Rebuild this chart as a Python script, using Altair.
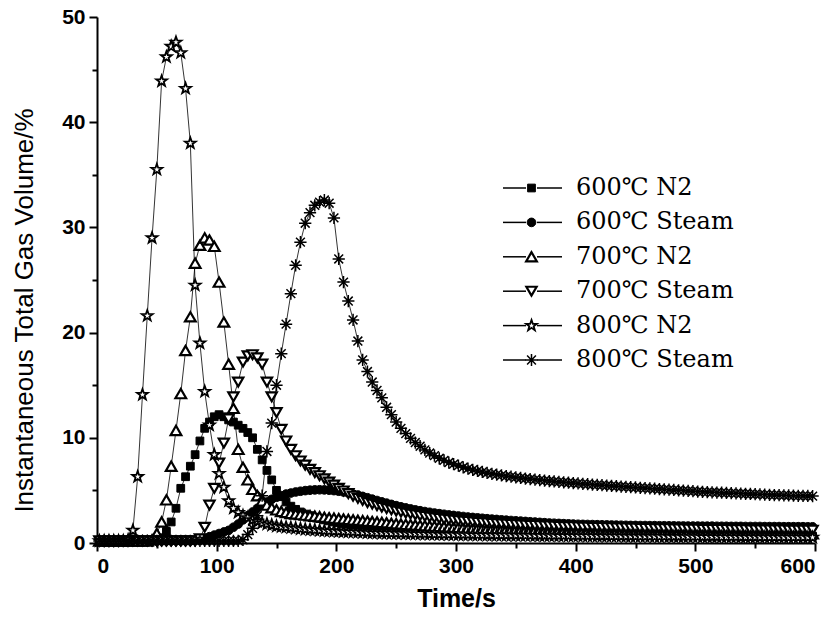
import altair as alt
import pandas as pd

series_names = ["600℃ N2", "600℃ Steam", "700℃ N2", "700℃ Steam", "800℃ N2", "800℃ Steam"]

# sampling times (s)
time_s = list(range(2, 600, 4))

s600_n2 = [
    0.2, 0.2, 0.2, 0.2, 0.2, 0.2, 0.2, 0.2, 0.2, 0.2,
    0.2, 0.2, 0.3, 0.5, 1.1, 2.0, 3.3, 5.2, 6.3, 7.3,
    8.4, 9.7, 10.9, 11.5, 12.0, 12.2, 12.0, 11.7, 11.5, 11.2,
    10.9, 10.5, 10.0, 8.9, 7.9, 6.9, 6.0, 5.0, 4.4, 3.9,
    3.5, 3.2, 2.95, 2.75, 2.6, 2.45, 2.32, 2.2, 2.1, 2.0,
    1.92, 1.85, 1.78, 1.72, 1.66, 1.6, 1.55, 1.5, 1.46, 1.42,
    1.38, 1.34, 1.31, 1.28, 1.25, 1.22, 1.19, 1.16, 1.14, 1.12,
    1.1, 1.08, 1.06, 1.04, 1.02, 1.0, 0.99, 0.97, 0.96, 0.95,
    0.94, 0.93, 0.92, 0.91, 0.9, 0.89, 0.88, 0.87, 0.86, 0.85,
    0.85, 0.84, 0.83, 0.83, 0.82, 0.81, 0.81, 0.8, 0.8, 0.79,
    0.79, 0.78, 0.78, 0.77, 0.77, 0.76, 0.76, 0.75, 0.75, 0.75,
    0.74, 0.74, 0.74, 0.73, 0.73, 0.73, 0.72, 0.72, 0.72, 0.71,
    0.71, 0.71, 0.71, 0.7, 0.7, 0.7, 0.7, 0.69, 0.69, 0.69,
    0.69, 0.68, 0.68, 0.68, 0.68, 0.68, 0.67, 0.67, 0.67, 0.67,
    0.67, 0.66, 0.66, 0.66, 0.66, 0.66, 0.66, 0.65, 0.65, 0.65,
]

s600_steam = [
    0.2, 0.2, 0.2, 0.2, 0.2, 0.2, 0.2, 0.2, 0.2, 0.2,
    0.2, 0.2, 0.2, 0.2, 0.2, 0.2, 0.2, 0.2, 0.2, 0.2,
    0.25, 0.3, 0.45, 0.6, 0.75, 0.9, 1.05, 1.2, 1.5, 1.8,
    2.2, 2.6, 2.95, 3.3, 3.6, 3.9, 4.15, 4.35, 4.5, 4.65,
    4.75, 4.85, 4.92, 4.98, 5.02, 5.05, 5.06, 5.05, 5.02, 4.98,
    4.92, 4.85, 4.76, 4.66, 4.55, 4.43, 4.3, 4.17, 4.04, 3.91,
    3.79, 3.67, 3.55, 3.44, 3.34, 3.24, 3.15, 3.07, 2.99, 2.92,
    2.85, 2.79, 2.73, 2.67, 2.62, 2.57, 2.52, 2.47, 2.43, 2.39,
    2.35, 2.31, 2.27, 2.24, 2.2, 2.17, 2.14, 2.11, 2.08, 2.05,
    2.02, 1.99, 1.96, 1.93, 1.9, 1.88, 1.86, 1.84, 1.82, 1.8,
    1.78, 1.77, 1.76, 1.75, 1.74, 1.73, 1.72, 1.71, 1.7, 1.69,
    1.68, 1.67, 1.67, 1.66, 1.66, 1.65, 1.65, 1.64, 1.64, 1.63,
    1.63, 1.62, 1.62, 1.61, 1.61, 1.61, 1.6, 1.6, 1.6, 1.59,
    1.59, 1.59, 1.58, 1.58, 1.58, 1.57, 1.57, 1.57, 1.57, 1.56,
    1.56, 1.56, 1.56, 1.55, 1.55, 1.55, 1.55, 1.55, 1.54, 1.54,
]

s700_n2 = [
    0.2, 0.2, 0.2, 0.2, 0.2, 0.2, 0.2, 0.2, 0.2, 0.2,
    0.2, 0.3, 0.9, 2.0, 4.1, 7.3, 10.7, 14.2, 18.3, 21.5,
    26.6, 28.3, 29.0, 28.8, 28.2, 24.8, 21.0, 17.0, 12.8, 8.9,
    7.2, 6.0, 5.1, 4.5, 4.0, 3.6, 3.35, 3.15, 3.0, 2.9,
    2.8, 2.75, 2.7, 2.65, 2.6, 2.55, 2.5, 2.45, 2.4, 2.36,
    2.32, 2.28, 2.24, 2.2, 2.16, 2.12, 2.08, 2.04, 2.0, 1.96,
    1.92, 1.88, 1.84, 1.8, 1.77, 1.74, 1.71, 1.68, 1.65, 1.62,
    1.6, 1.57, 1.55, 1.52, 1.5, 1.48, 1.46, 1.44, 1.42, 1.4,
    1.38, 1.36, 1.34, 1.33, 1.31, 1.3, 1.28, 1.27, 1.25, 1.24,
    1.23, 1.22, 1.2, 1.19, 1.18, 1.17, 1.16, 1.15, 1.14, 1.13,
    1.12, 1.11, 1.1, 1.09, 1.08, 1.08, 1.07, 1.06, 1.05, 1.05,
    1.04, 1.03, 1.03, 1.02, 1.01, 1.01, 1.0, 1.0, 0.99, 0.99,
    0.98, 0.98, 0.97, 0.97, 0.96, 0.96, 0.95, 0.95, 0.95, 0.94,
    0.94, 0.93, 0.93, 0.93, 0.92, 0.92, 0.92, 0.91, 0.91, 0.91,
    0.9, 0.9, 0.9, 0.9, 0.89, 0.89, 0.89, 0.89, 0.88, 0.88,
]

s700_steam = [
    0.2, 0.2, 0.2, 0.2, 0.2, 0.2, 0.2, 0.2, 0.2, 0.2,
    0.2, 0.2, 0.2, 0.2, 0.2, 0.2, 0.2, 0.2, 0.2, 0.2,
    0.2, 0.4, 1.5, 3.6, 5.2, 7.6, 9.5, 11.8, 13.9, 15.3,
    17.2, 17.8, 17.9, 17.6, 17.0, 15.3, 13.9, 12.4, 10.8, 9.7,
    8.9, 8.3, 7.8, 7.4, 7.0, 6.7, 6.4, 6.1, 5.8, 5.5,
    5.2, 4.95, 4.7, 4.45, 4.25, 4.05, 3.85, 3.7, 3.55, 3.4,
    3.27, 3.15, 3.04, 2.94, 2.85, 2.76, 2.68, 2.6, 2.53, 2.46,
    2.4, 2.34, 2.28, 2.23, 2.18, 2.13, 2.09, 2.05, 2.01, 1.97,
    1.94, 1.91, 1.88, 1.85, 1.82, 1.8, 1.77, 1.75, 1.73, 1.71,
    1.69, 1.67, 1.65, 1.63, 1.62, 1.6, 1.59, 1.57, 1.56, 1.55,
    1.53, 1.52, 1.51, 1.5, 1.49, 1.48, 1.47, 1.46, 1.45, 1.44,
    1.43, 1.42, 1.41, 1.4, 1.39, 1.39, 1.38, 1.37, 1.36, 1.36,
    1.35, 1.34, 1.34, 1.33, 1.32, 1.32, 1.31, 1.31, 1.3, 1.3,
    1.29, 1.29, 1.28, 1.28, 1.27, 1.27, 1.26, 1.26, 1.26, 1.25,
    1.25, 1.24, 1.24, 1.24, 1.23, 1.23, 1.23, 1.22, 1.22, 1.22,
]

s800_n2 = [
    0.2, 0.2, 0.2, 0.2, 0.2, 0.2, 0.3, 1.2, 6.3, 14.1,
    21.6, 29.0, 35.5, 43.9, 46.2, 47.2, 47.6, 46.6, 43.2, 38.0,
    24.5, 19.0, 14.4, 11.2, 8.4, 6.6, 5.3, 4.0, 3.3, 2.9,
    2.6, 2.4, 2.2, 2.05, 1.9, 1.8, 1.7, 1.6, 1.55, 1.5,
    1.45, 1.4, 1.35, 1.3, 1.27, 1.24, 1.2, 1.17, 1.14, 1.12,
    1.1, 1.08, 1.06, 1.04, 1.02, 1.0, 0.98, 0.96, 0.95, 0.94,
    0.93, 0.92, 0.91, 0.9, 0.89, 0.88, 0.87, 0.86, 0.85, 0.84,
    0.83, 0.82, 0.81, 0.8, 0.8, 0.79, 0.78, 0.78, 0.77, 0.76,
    0.76, 0.75, 0.75, 0.74, 0.74, 0.73, 0.73, 0.72, 0.72, 0.71,
    0.71, 0.7, 0.7, 0.7, 0.69, 0.69, 0.68, 0.68, 0.68, 0.67,
    0.67, 0.66, 0.66, 0.66, 0.65, 0.65, 0.65, 0.64, 0.64, 0.64,
    0.63, 0.63, 0.63, 0.62, 0.62, 0.62, 0.61, 0.61, 0.61, 0.6,
    0.6, 0.6, 0.6, 0.59, 0.59, 0.59, 0.58, 0.58, 0.58, 0.58,
    0.57, 0.57, 0.57, 0.57, 0.56, 0.56, 0.56, 0.56, 0.55, 0.55,
    0.55, 0.55, 0.55, 0.54, 0.54, 0.54, 0.54, 0.54, 0.53, 0.53,
]

s800_steam = [
    0.2, 0.2, 0.2, 0.2, 0.2, 0.2, 0.2, 0.2, 0.2, 0.2,
    0.2, 0.2, 0.2, 0.2, 0.2, 0.2, 0.2, 0.2, 0.2, 0.2,
    0.2, 0.2, 0.2, 0.2, 0.2, 0.2, 0.2, 0.2, 0.2, 0.2,
    0.3, 0.8, 1.4, 2.6, 4.5, 8.7, 11.4, 15.0, 18.0, 20.8,
    23.7, 26.4, 28.6, 30.4, 31.4, 32.1, 32.4, 32.6, 32.3, 30.9,
    27.0, 24.8, 23.0, 21.2, 19.2, 17.4, 16.3, 15.3, 14.5, 13.8,
    12.9, 12.2, 11.5, 10.9, 10.4, 9.95, 9.55, 9.2, 8.85, 8.55,
    8.3, 8.05, 7.85, 7.65, 7.5, 7.35, 7.2, 7.07, 6.95, 6.85,
    6.75, 6.66, 6.58, 6.5, 6.43, 6.36, 6.3, 6.24, 6.18, 6.13,
    6.08, 6.03, 5.98, 5.93, 5.89, 5.85, 5.81, 5.77, 5.73, 5.7,
    5.66, 5.62, 5.59, 5.55, 5.52, 5.49, 5.46, 5.43, 5.4, 5.37,
    5.34, 5.31, 5.28, 5.25, 5.22, 5.19, 5.16, 5.13, 5.1, 5.07,
    5.04, 5.01, 4.98, 4.95, 4.92, 4.89, 4.86, 4.84, 4.82, 4.8,
    4.78, 4.76, 4.74, 4.72, 4.7, 4.68, 4.66, 4.64, 4.62, 4.6,
    4.58, 4.56, 4.55, 4.53, 4.52, 4.5, 4.49, 4.48, 4.47, 4.46,
]

x_ticks = [0, 100, 200, 300, 400, 500, 600]
x_minor = [50, 150, 250, 350, 450, 550]
y_ticks = [0, 10, 20, 30, 40, 50]
y_minor = [5, 15, 25, 35, 45]

all_series = [s600_n2, s600_steam, s700_n2, s700_steam, s800_n2, s800_steam]
rows = []
for name, vals in zip(series_names, all_series):
    for t, v in zip(time_s, vals):
        rows.append({"t": t, "v": v, "series": name})
df = pd.DataFrame(rows)

STAR = ("M0,-1L0.235,-0.324L0.951,-0.309L0.38,0.124L0.588,0.809L0,0.4"
        "L-0.588,0.809L-0.38,0.124L-0.951,-0.309L-0.235,-0.324Z")
AST = "M0,-1L0,1M-1,0L1,0M-0.72,-0.72L0.72,0.72M-0.72,0.72L0.72,-0.72"

shape_scale = alt.Scale(domain=series_names,
                        range=["square", "circle", "triangle-up", "triangle-down", STAR, AST])
fill_scale = alt.Scale(domain=series_names,
                       range=["black", "black", "white", "white", "white", "black"])
size_scale = alt.Scale(type="ordinal", domain=series_names, range=[60, 75, 115, 105, 130, 150])
sw_scale = alt.Scale(type="ordinal", domain=series_names, range=[1, 1, 2.2, 2.2, 1.8, 1.5])

x_scale = alt.Scale(domain=[0, 600], nice=False)
y_scale = alt.Scale(domain=[0, 50], nice=False)

lines = alt.Chart(df).mark_line(stroke="black", strokeWidth=0.8).encode(
    x=alt.X("t:Q", scale=x_scale,
            axis=alt.Axis(values=x_ticks, title="Time/s", tickSize=8, labelPadding=4,
                          titleFontSize=25, titleFontWeight="bold", titlePadding=10,
                          orient="bottom")),
    y=alt.Y("v:Q", scale=y_scale,
            axis=alt.Axis(values=y_ticks, title="Instantaneous Total Gas Volume/%",
                          tickSize=8, labelPadding=4, titleFontSize=26,
                          titleFontWeight="normal", titlePadding=24, titleY=293,
                          orient="left")),
    detail="series:N",
)

points = alt.Chart(df).mark_point(filled=True, stroke="black", opacity=1, fillOpacity=1).encode(
    x=alt.X("t:Q", scale=x_scale,
            axis=alt.Axis(values=x_minor, labels=False, title=None, tickSize=5,
                          domain=False, orient="bottom")),
    y=alt.Y("v:Q", scale=y_scale,
            axis=alt.Axis(values=y_minor, labels=False, title=None, tickSize=5,
                          domain=False, orient="left")),
    shape=alt.Shape("series:N", scale=shape_scale, legend=None),
    fill=alt.Fill("series:N", scale=fill_scale, legend=None),
    size=alt.Size("series:N", scale=size_scale, legend=None),
    strokeWidth=alt.StrokeWidth("series:N", scale=sw_scale, legend=None),
)

main = alt.layer(lines, points).resolve_axis(x="independent", y="independent")

legend_rows = [0, 1, 2, 3, 4, 5]
legend_df = pd.DataFrame({"series": series_names, "row": legend_rows})
ly = alt.Y("row:Q", scale=alt.Scale(domain=[0, 5], range=[171, 343]), axis=None)

seg_left = alt.Chart(legend_df).mark_rule(stroke="black", strokeWidth=1.5).encode(
    x=alt.value(406), x2=alt.value(429), y=ly)
seg_right = alt.Chart(legend_df).mark_rule(stroke="black", strokeWidth=1.5).encode(
    x=alt.value(440), x2=alt.value(465), y=ly)
leg_pts = alt.Chart(legend_df).mark_point(filled=True, stroke="black", opacity=1, fillOpacity=1).encode(
    x=alt.value(434.5), y=ly,
    shape=alt.Shape("series:N", scale=shape_scale, legend=None),
    fill=alt.Fill("series:N", scale=fill_scale, legend=None),
    size=alt.Size("series:N", scale=size_scale, legend=None),
    strokeWidth=alt.StrokeWidth("series:N", scale=sw_scale, legend=None),
)
leg_txt = alt.Chart(legend_df).mark_text(align="left", baseline="middle",
                                         font="DejaVu Serif", fontSize=24,
                                         color="black").encode(
    x=alt.value(479), y=ly, text="series:N")

legend = alt.layer(seg_left, seg_right, leg_pts, leg_txt)

chart = alt.layer(main, legend).resolve_scale(y="independent").properties(
    width=718, height=526,
    autosize=alt.AutoSizeParams(type="none"),
    padding={"left": 97, "top": 17, "right": 22, "bottom": 83},
).configure_view(stroke=None).configure_axis(
    grid=False,
    labelFont="Liberation Sans", labelFontWeight="bold", labelFontSize=21, labelColor="black",
    titleFont="Liberation Sans", titleColor="black",
    domainColor="black", domainWidth=2, tickColor="black", tickWidth=2,
)

chart.save("out.html", embed_options={"renderer": "svg", "actions": False})
